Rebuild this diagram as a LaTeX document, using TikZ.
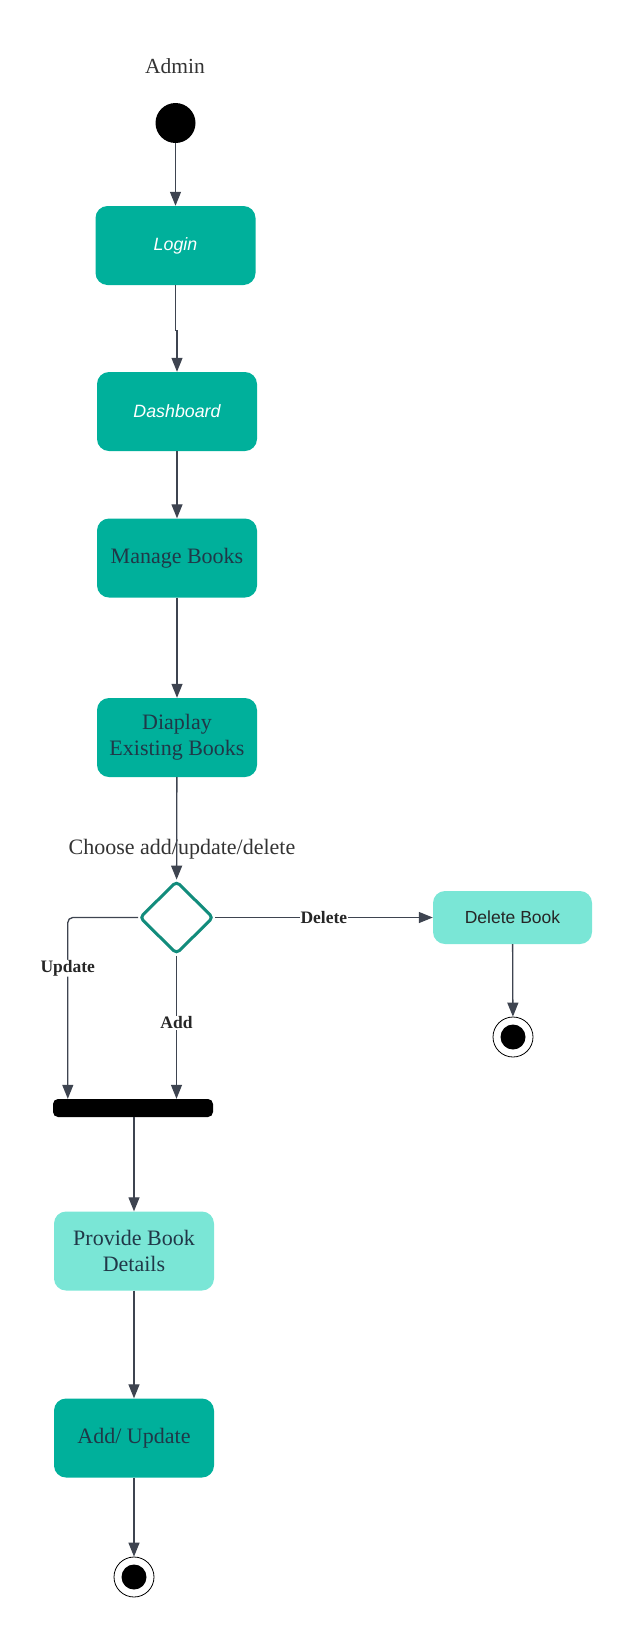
\documentclass[tikz,border=0pt]{standalone}
\usepackage{fontspec}
\setmainfont{Liberation Serif}
\setsansfont{Liberation Sans}
\usepackage{tikz}
\usetikzlibrary{arrows.meta, positioning, shapes.geometric}
\usepackage{xcolor}

\definecolor{actteal}{RGB}{0,176,155}
\definecolor{actlight}{RGB}{122,230,214}
\definecolor{decteal}{RGB}{18,140,124}
\definecolor{flowgray}{RGB}{62,68,80}
\definecolor{inkblue}{RGB}{32,56,72}

\tikzset{
    activity/.style={rectangle, rounded corners=12pt, fill=actteal, inner sep=0pt,
        minimum width=160pt, minimum height=79pt, align=center, text=inkblue,
        font=\fontsize{22}{26}\selectfont},
    screen/.style={activity, text=white, font=\sffamily\itshape\fontsize{17.8}{20}\selectfont},
    input/.style={activity, fill=actlight},
    flow/.style={draw=flowgray, line width=1.3pt, -{Triangle[length=14pt, width=11pt]}},
    guard/.style={fill=white, inner sep=0.5pt, text=black!85,
        font=\bfseries\fontsize{17.5}{19}\selectfont},
    endstate/.style={circle, draw, line width=0.8pt, minimum size=40pt, inner sep=0pt,
        path picture={\fill (path picture bounding box.center) circle (12.5pt);}}
}

\begin{document}
\begin{tikzpicture}[x=1pt, y=-1pt]
    \useasboundingbox (0,0) rectangle (633,1638);

    % actor
    \node[text=black!80, font=\fontsize{21.5}{24}\selectfont] (admin) at (175,66) {Admin};

    % start
    \node[circle, fill=black, minimum size=40pt, inner sep=0pt] (start) at (175.5,123) {};

    % main flow
    \node[screen] (login) at (175.5,245.5) {Login};
    \node[screen] (dash) at (177,411.5) {Dashboard};
    \node[activity] (manage) at (177,558) {Manage Books};
    \node[activity] (show) at (177,737.5) {Diaplay\\Existing Books};

    % decision
    \node[text=black!80, font=\fontsize{22}{24}\selectfont] (choose) at (182,849) {Choose add/update/delete};
    \node[diamond, draw=decteal, line width=3pt, fill=white, rounded corners=4pt,
        minimum width=74pt, minimum height=73pt, inner sep=0pt] (dec) at (176.5,917.5) {};

    % delete branch
    \node[input, minimum width=159pt, minimum height=53pt, text=black!85,
        font=\sffamily\fontsize{17.5}{20}\selectfont] (del) at (512.5,917.5) {Delete Book};
    \node[endstate] (end2) at (513,1037) {};

    % join bar
    \node[rectangle, rounded corners=5pt, fill=black, minimum width=160pt, minimum height=18pt,
        inner sep=0pt] (bar) at (133,1108) {};
    \coordinate (updin) at ([xshift=15pt]bar.north west);

    % add / update branch
    \node[input] (details) at (134,1251) {Provide Book\\Details};
    \node[activity] (save) at (134,1438) {Add/ Update};
    \node[endstate] (end1) at (134,1577) {};

    % connectors
    \draw[flow] (start) -- (login);
    \draw[flow] (login.south) -- ++(0,45) -| (dash.north);
    \draw[flow] (dash) -- (manage);
    \draw[flow] (manage) -- (show);
    \draw[flow] (show) -- (dec);
    \draw[flow] (dec.east) -- node[guard] {Delete} (del.west);
    \draw[flow] (del) -- (end2);
    \draw[flow, rounded corners=5pt] (dec.west) -| node[guard, pos=0.64] {Update} (updin);
    \draw[flow] (dec.south) -- node[guard, pos=0.47] {Add} (dec.south |- bar.north);
    \draw[flow] (bar.south -| details.north) -- (details.north);
    \draw[flow] (details) -- (save);
    \draw[flow] (save) -- (end1);
\end{tikzpicture}
\end{document}
